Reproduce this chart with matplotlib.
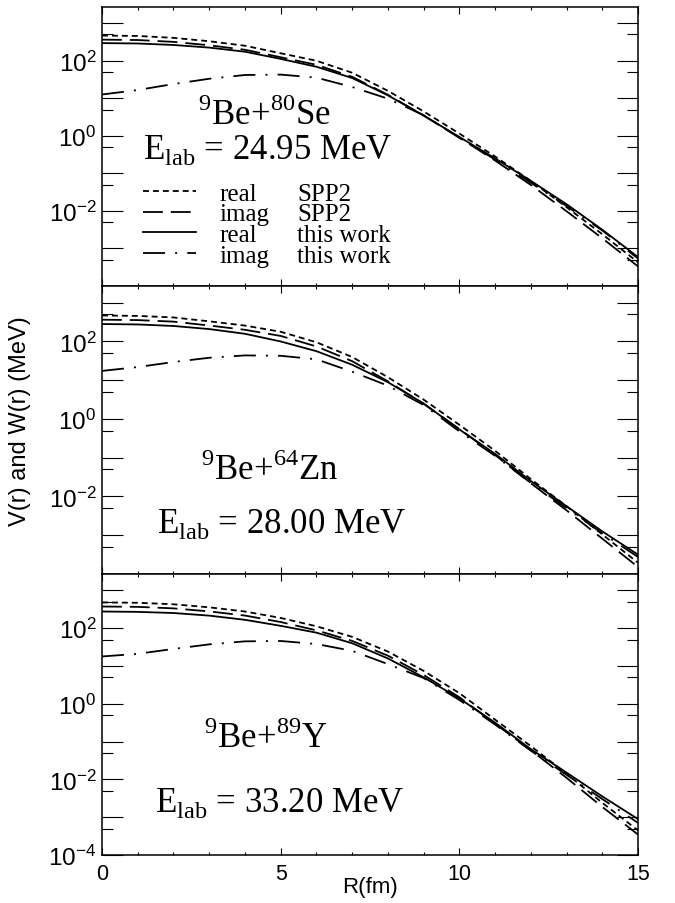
import numpy as np
import matplotlib
matplotlib.use('Agg')
import matplotlib.pyplot as plt
from matplotlib.lines import Line2D
from matplotlib.ticker import FixedLocator, MultipleLocator, FuncFormatter

plt.rcParams['font.family'] = 'Liberation Sans'

# radius grid (fm)
r = np.arange(0, 16)

# 9Be + 80Se, Elab = 24.95 MeV  (MeV)
se_real_spp2 = [468, 457, 407, 331, 251, 158, 100, 47.9, 15.8, 4.47, 1.15, 0.282, 0.0631, 0.0126, 0.0024, 4.27e-4]
se_imag_spp2 = [365, 356, 318, 258, 196, 124, 78.0, 37.3, 12.4, 3.48, 0.895, 0.220, 0.0492, 0.00982, 0.00187, 3.33e-4]
se_real_work = [295, 288, 263, 224, 174, 112, 69.2, 34.7, 12.0, 3.47, 0.933, 0.251, 0.0631, 0.0151, 0.00316, 5.89e-4]
se_imag_work = [12.6, 16.6, 24.0, 33.1, 41.7, 42.7, 35.5, 20.0, 9.77, 3.55, 0.891, 0.234, 0.0562, 0.0135, 0.00302, 5.37e-4]

# 9Be + 64Zn, Elab = 28.00 MeV
zn_real_spp2 = [468, 457, 417, 331, 257, 178, 95.5, 39.8, 12.0, 3.16, 0.708, 0.151, 0.0282, 0.00562, 0.00105, 1.95e-4]
zn_imag_spp2 = [365, 356, 325, 258, 200, 139, 74.5, 31.0, 9.38, 2.47, 0.552, 0.118, 0.0220, 0.00439, 8.17e-4, 1.52e-4]
zn_real_work = [282, 275, 251, 209, 158, 100, 56.2, 25.1, 8.91, 2.51, 0.537, 0.126, 0.0251, 0.00562, 0.00126, 3.16e-4]
zn_imag_work = [17.4, 21.9, 29.5, 38.0, 43.7, 42.7, 34.7, 16.6, 7.24, 2.29, 0.479, 0.112, 0.0224, 0.00501, 0.00112, 2.75e-4]

# 9Be + 89Y, Elab = 33.20 MeV
y_real_spp2 = [479, 468, 427, 355, 275, 186, 112, 58.9, 24.0, 7.41, 1.91, 0.380, 0.0759, 0.0141, 0.0024, 4.47e-4]
y_imag_spp2 = [373, 365, 333, 277, 215, 145, 87.5, 45.9, 18.7, 5.78, 1.49, 0.296, 0.0592, 0.0110, 0.00187, 3.48e-4]
y_real_work = [275, 269, 251, 214, 166, 115, 75.9, 39.8, 15.8, 5.01, 1.38, 0.316, 0.0631, 0.0151, 0.00355, 8.91e-4]
y_imag_work = [17.8, 20.9, 28.2, 37.2, 44.7, 45.7, 38.0, 25.1, 11.2, 4.79, 1.26, 0.282, 0.0575, 0.0132, 0.00302, 7.08e-4]

systems = ['$^{\\mathdefault{9}}$Be+$^{\\mathdefault{80}}$Se',
           '$^{\\mathdefault{9}}$Be+$^{\\mathdefault{64}}$Zn',
           '$^{\\mathdefault{9}}$Be+$^{\\mathdefault{89}}$Y']
energies = ['24.95', '28.00', '33.20']
panels = [(se_real_spp2, se_imag_spp2, se_real_work, se_imag_work),
          (zn_real_spp2, zn_imag_spp2, zn_real_work, zn_imag_work),
          (y_real_spp2, y_imag_spp2, y_real_work, y_imag_work)]

LW = 1.3
styles = [(0, (3.3, 2.2)),                 # real SPP2
          (0, (11, 4.4)),                  # imag SPP2
          '-',                             # real this work
          (0, (12.2, 5.6, 1.1, 5.6))]      # imag this work
kinds = ['real', 'imag', 'real', 'imag']
sources = ['SPP2', 'SPP2', 'this work', 'this work']

# (system label centre x, baseline y), (Elab left x, baseline y) in axes fractions
label_pos = [((0.304, 0.581), (0.0765, 0.459)),
             ((0.313, 0.330), (0.1026, 0.146)),
             ((0.306, 0.384), (0.099, 0.157))]

W, H = 675, 904
left, right = 102, 638
edges = [8, 287, 575, 856]

fig = plt.figure(figsize=(W / 100, H / 100), dpi=100)
axes = []
for i in range(3):
    top, bot = edges[i], edges[i + 1]
    ax = fig.add_axes([left / W, 1 - bot / H, (right - left) / W, (bot - top) / H])
    for vals, ls in zip(panels[i], styles):
        ax.plot(r, vals, color='black', lw=LW, linestyle=ls)
    ax.set_yscale('log')
    ax.set_xlim(0, 15)
    ax.set_ylim(1e-4, 2.7e3)

    ax.xaxis.set_major_locator(MultipleLocator(5))
    ax.xaxis.set_minor_locator(MultipleLocator(1))
    ax.yaxis.set_major_locator(FixedLocator([10.0 ** n for n in range(-4, 4)]))
    ax.yaxis.set_minor_locator(FixedLocator([5 * 10.0 ** n for n in range(-4, 3)]))

    lowest = -4 if i == 2 else -2

    def fmt(v, pos, lowest=lowest):
        n = int(round(np.log10(v)))
        if n % 2 == 0 and lowest <= n <= 2:
            return '$\\mathdefault{10^{%d}}$' % n
        return ''
    ax.yaxis.set_major_formatter(FuncFormatter(fmt))

    ax.tick_params(which='both', direction='in', top=True, right=True, width=0.8)
    ax.tick_params(axis='y', which='major', length=15, labelsize=17.5, pad=4)
    ax.tick_params(axis='y', which='minor', length=8)
    ax.tick_params(axis='x', which='major', length=5, labelsize=15.5, pad=6)
    ax.tick_params(axis='x', which='minor', length=2.5)
    if i < 2:
        ax.tick_params(axis='x', labelbottom=False)
    for s in ax.spines.values():
        s.set_linewidth(1.1)

    (sx, sy), (ex, ey) = label_pos[i]
    ax.text(sx, sy, systems[i], transform=ax.transAxes, ha='center', va='baseline',
            family='Liberation Serif', fontsize=25)
    ax.text(ex, ey, 'E$_{\\mathdefault{lab}}$ = %s MeV' % energies[i], transform=ax.transAxes,
            ha='left', va='baseline', family='Liberation Serif', fontsize=25)
    axes.append(ax)

# legend in the top panel: line sample + first word, second word as its own column
ax0 = axes[0]
handles = [Line2D([], [], color='black', lw=LW, linestyle=ls) for ls in styles]
leg = ax0.legend(handles, kinds, loc='upper left', bbox_to_anchor=(0.0765, 0.372),
                 frameon=False, borderpad=0, borderaxespad=0, handlelength=2.1,
                 handletextpad=0.95, labelspacing=-0.07,
                 prop={'family': 'Liberation Serif', 'size': 18})
fig.canvas.draw()
inv = ax0.transAxes.inverted()
for t, word in zip(leg.get_texts(), sources):
    bb = t.get_window_extent()
    yc = inv.transform((0, (bb.y0 + bb.y1) / 2))[1]
    ax0.text(0.364, yc, word, transform=ax0.transAxes, ha='left', va='center',
             family='Liberation Serif', fontsize=18)

fig.text(20 / W, 1 - 421 / H, 'V(r) and W(r) (MeV)', rotation=90,
         ha='center', va='center', fontsize=17)
fig.text(370 / W, 1 - 888 / H, 'R(fm)', ha='center', va='center', fontsize=16)

fig.savefig('out.png', dpi=100)
